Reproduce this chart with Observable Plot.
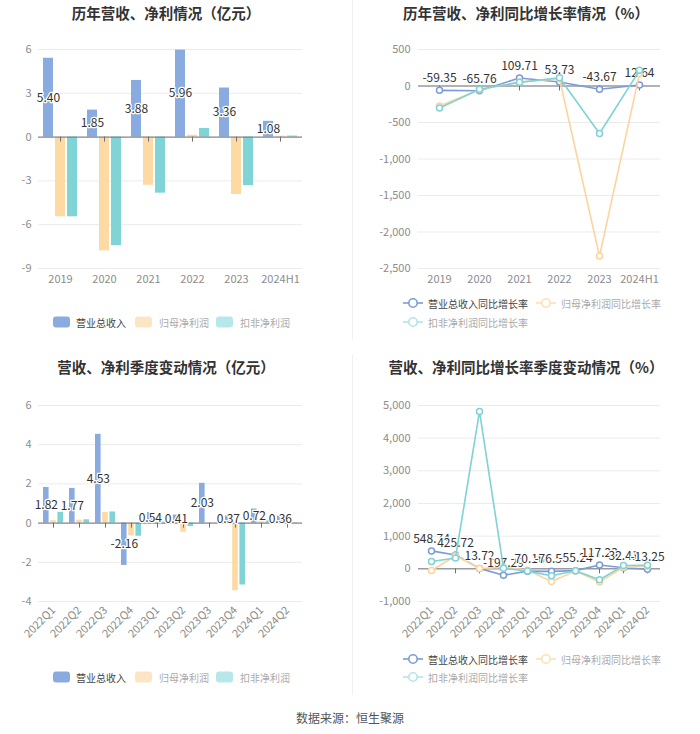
<!DOCTYPE html>
<html><head><meta charset="utf-8">
<script src="https://cdn.jsdelivr.net/npm/d3@7"></script>
<script src="https://cdn.jsdelivr.net/npm/@observablehq/plot@0.6"></script>
<style>
body{margin:0;background:#fff;font-family:"Noto Sans CJK SC","Noto Sans",sans-serif;}
#root{position:relative;width:700px;height:734px;overflow:hidden;background:#fff;}
.title{position:absolute;font-weight:bold;font-size:14.5px;color:#333;white-space:nowrap;transform:translate(-50%,-50%);}
.chart{position:absolute;}
.lg{position:absolute;font-size:10px;white-space:nowrap;transform:translateY(-50%);line-height:13px;}
.sw{position:absolute;width:17px;height:11px;border-radius:3px;transform:translateY(-50%);}
.divider{position:absolute;width:1px;background:#f0f0f0;}
.source{position:absolute;left:0;width:700px;text-align:center;font-size:12px;color:#555;}
</style></head><body><div id="root"></div><script>
// ---------- data ----------
const years = ["2019","2020","2021","2022","2023","2024H1"];
const annualRevenue = [5.40, 1.85, 3.88, 5.96, 3.36, 1.08];
const annualNetProfit = [-5.46, -7.79, -3.30, 0.13, -3.93, 0.06];
const annualDeductedProfit = [-5.46, -7.43, -3.84, 0.59, -3.32, 0.07];
const annualRevenueGrowth = [-59.35, -65.76, 109.71, 53.73, -43.67, 12.64];
const annualNetProfitGrowth = [-275, -50, 55, 100, -2330, 170];
const annualDeductedGrowth = [-300, -45, 50, 114, -650, 215];

const quarters = ["2022Q1","2022Q2","2022Q3","2022Q4","2023Q1","2023Q2","2023Q3","2023Q4","2024Q1","2024Q2"];
const qRevenue = [1.82, 1.77, 4.53, -2.16, 0.54, 0.41, 2.03, 0.37, 0.72, 0.36];
const qNetProfit = [0.12, 0.15, 0.55, -0.65, 0.02, -0.47, 0.01, -3.45, 0.10, 0.03];
const qDeductedProfit = [0.55, 0.17, 0.57, -0.67, 0.05, -0.17, 0.01, -3.16, 0.12, 0.02];
const qRevenueGrowth = [548.74, 425.72, 13.72, -197.29, -70.16, -76.55, -55.24, 117.23, 32.41, -13.25];
const qNetProfitGrowth = [-50, 400, 10, 50, -40, -385, -70, -400, 50, 80];
const qDeductedGrowth = [222, 333, 4818, 20, -70, -212, -60, -333, 100, 110];

const annualTicks = [-9, -6, -3, 0, 3, 6];
const annualGrowthTicks = [-2500, -2000, -1500, -1000, -500, 0, 500];
const quarterTicks = [-4, -2, 0, 2, 4, 6];
const quarterGrowthTicks = [-1000, 0, 1000, 2000, 3000, 4000, 5000];

const barNames = ["营业总收入", "归母净利润", "扣非净利润"];
const lineNames = ["营业总收入同比增长率", "归母净利润同比增长率", "扣非净利润同比增长率"];
const barColors = ["#8aabdf", "#fdd9a3", "#80d4d5"];
const lineColors = ["#7b9cd8", "#fdd49c", "#7fd2d6"];
const hy = s => s.replace(/\u2212/g, "-");
const fmt2 = v => hy(d3.format(".2f")(v));
const fmtTick = v => hy(d3.format(",")(v));

// ---------- helpers ----------
const root = document.getElementById("root");
function add(html) { root.insertAdjacentHTML("beforeend", html); }

function barChart({cats, series, domain, ticks, left, top, width, height, mL, mR, mT, mB, barW, step, rotate}) {
  const bw = (width - mL - mR) / cats.length;
  const inset = (bw - barW) / 2;
  const marks = [Plot.ruleY(ticks, {stroke: "#ebebeb"})];
  series.forEach((vals, k) => {
    const data = vals.map((v, i) => ({cat: cats[i], v}));
    marks.push(Plot.barY(data, {x: "cat", y: "v", fill: barColors[k], insetLeft: inset, insetRight: inset, dx: (k - 1) * step}));
  });
  marks.push(Plot.ruleY([0], {stroke: "#6e7079"}));
  marks.push(Plot.ruleX(cats, {x: d => d, y1: 0, y2: 0, insetBottom: -5, stroke: "#6e7079"}));
  const lab = series[0].map((v, i) => ({cat: cats[i], v}));
  marks.push(Plot.text(lab, {x: "cat", y: d => d.v / 2, text: d => fmt2(d.v), dx: -step, fill: "#333", stroke: "white", strokeWidth: 2.5, fontSize: 12}));
  const svg = Plot.plot({
    width, height, marginLeft: mL, marginRight: mR, marginTop: mT, marginBottom: mB,
    style: {fontSize: "11px", color: "#8c8c8c", background: "transparent", fontFamily: '"Noto Sans CJK SC", sans-serif'},
    x: {type: "band", domain: cats, padding: 0, tickSize: 0, tickPadding: 7, tickRotate: rotate, label: null},
    y: {domain, ticks, tickSize: 0, tickPadding: 7, tickFormat: fmtTick, label: null},
    marks
  });
  svg.classList.add("chart");
  svg.style.left = left + "px"; svg.style.top = top + "px";
  root.appendChild(svg);
}

function lineChart({cats, series, domain, ticks, left, top, width, height, mL, mR, mT, mB, rotate}) {
  const marks = [Plot.ruleY(ticks, {stroke: "#ebebeb"}), Plot.ruleY([0], {stroke: "#6e7079"}),
    Plot.ruleX(cats, {x: d => d, y1: 0, y2: 0, insetBottom: -5, stroke: "#6e7079"})];
  series.forEach((vals, k) => {
    const data = vals.map((v, i) => ({cat: cats[i], v}));
    marks.push(Plot.line(data, {x: "cat", y: "v", stroke: lineColors[k], strokeWidth: 1.6}));
    marks.push(Plot.dot(data, {x: "cat", y: "v", r: 3, stroke: lineColors[k], fill: "white", strokeWidth: 1.5}));
    if (k === 0) marks.push(Plot.text(data, {x: "cat", y: "v", text: d => fmt2(d.v), dy: -12, fill: "#333", stroke: "white", strokeWidth: 2.5, fontSize: 12}));
  });
  const svg = Plot.plot({
    width, height, marginLeft: mL, marginRight: mR, marginTop: mT, marginBottom: mB,
    style: {fontSize: "11px", color: "#8c8c8c", background: "transparent", fontFamily: '"Noto Sans CJK SC", sans-serif', overflow: "visible"},
    x: {type: "point", domain: cats, padding: 0.5, tickSize: 0, tickPadding: 7, tickRotate: rotate, label: null},
    y: {domain, ticks, tickSize: 0, tickPadding: 8, tickFormat: fmtTick, label: null},
    marks
  });
  svg.classList.add("chart");
  svg.style.left = left + "px"; svg.style.top = top + "px";
  root.appendChild(svg);
}

function barLegend(y) {
  const sw = ["#8aabdf", "#fde5c4", "#b6e8e9"];
  const sx = [53, 135, 216], tx = [76, 159, 240];
  const tc = ["#444", "#aaa", "#aaa"];
  barNames.forEach((n, i) => {
    add(`<div class="sw" style="left:${sx[i]}px;top:${y}px;background:${sw[i]}"></div>`);
    add(`<div class="lg" style="left:${tx[i]}px;top:${y}px;color:${tc[i]}">${n}</div>`);
  });
}
function lineLegend(y1, y2) {
  const ic = ["#7b9cd8", "#fde0b4", "#b2e5e8"];
  const pos = [[403, 428, y1], [536, 561, y1], [403, 428, y2]];
  const tc = ["#444", "#aaa", "#aaa"];
  lineNames.forEach((n, i) => {
    const [ix, tx, y] = pos[i];
    add(`<svg style="position:absolute;left:${ix}px;top:${y - 6}px" width="20" height="12"><line x1="0" y1="6" x2="20" y2="6" stroke="${ic[i]}" stroke-width="1.6"/><circle cx="10" cy="6" r="4.2" fill="white" stroke="${ic[i]}" stroke-width="1.6"/></svg>`);
    add(`<div class="lg" style="left:${tx}px;top:${y}px;color:${tc[i]}">${n}</div>`);
  });
}

// ---------- layout ----------
add(`<div class="divider" style="left:352px;top:0;height:340px"></div>`);
add(`<div class="divider" style="left:352px;top:355px;height:340px"></div>`);

add(`<div class="title" style="left:166px;top:12px">历年营收、净利情况（亿元）</div>`);
add(`<div class="title" style="left:526px;top:12px">历年营收、净利同比增长率情况（%）</div>`);
add(`<div class="title" style="left:166px;top:366px">营收、净利季度变动情况（亿元）</div>`);
add(`<div class="title" style="left:526px;top:366px">营收、净利同比增长率季度变动情况（%）</div>`);

barChart({cats: years, series: [annualRevenue, annualNetProfit, annualDeductedProfit], domain: [-9, 6], ticks: annualTicks,
  left: 0, top: 30, width: 350, height: 262, mL: 38, mR: 48, mT: 19, mB: 24, barW: 10, step: 12, rotate: 0});
lineChart({cats: years, series: [annualRevenueGrowth, annualNetProfitGrowth, annualDeductedGrowth], domain: [-2500, 500], ticks: annualGrowthTicks,
  left: 350, top: 30, width: 350, height: 262, mL: 68, mR: 40, mT: 19, mB: 24, rotate: 0});
barChart({cats: quarters, series: [qRevenue, qNetProfit, qDeductedProfit], domain: [-4, 6], ticks: quarterTicks,
  left: 0, top: 385, width: 350, height: 260, mL: 38, mR: 48, mT: 20, mB: 44, barW: 6, step: 7.2, rotate: -45});
lineChart({cats: quarters, series: [qRevenueGrowth, qNetProfitGrowth, qDeductedGrowth], domain: [-1000, 5000], ticks: quarterGrowthTicks,
  left: 350, top: 385, width: 350, height: 260, mL: 68, mR: 40, mT: 20, mB: 44, rotate: -45});

barLegend(322);
lineLegend(303, 322);
barLegend(677);
lineLegend(659, 677);
add(`<div class="source" style="top:709px">数据来源：恒生聚源</div>`);
</script></body></html>
